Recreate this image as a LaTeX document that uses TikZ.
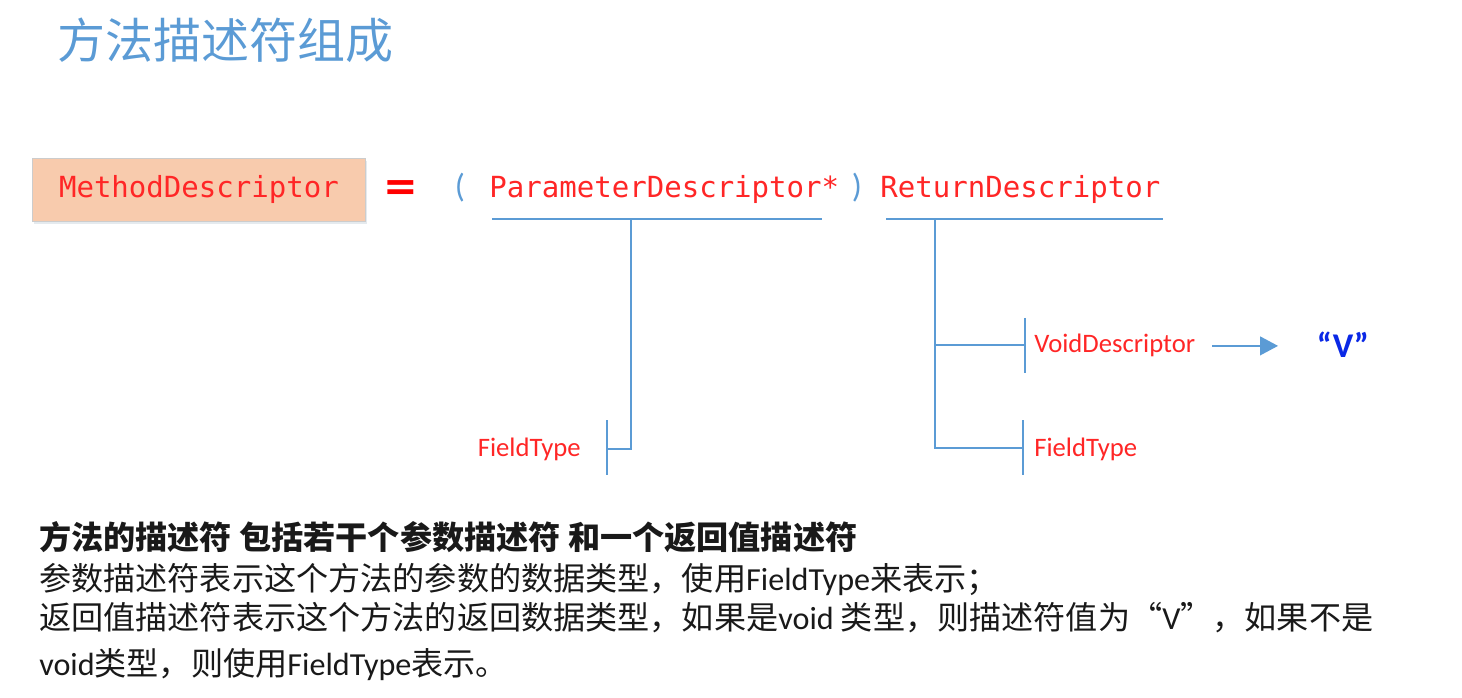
\documentclass[tikz,border=0pt]{standalone}
\usepackage{fontspec}
\usetikzlibrary{arrows.meta,shadows}
\setmainfont{Carlito}
\newfontfamily\cjk{Noto Sans CJK SC}
\newfontfamily\lat{Carlito}
\newfontfamily\codefont{DejaVu Sans Mono}
\newfontfamily\symfont{DejaVu Sans}
\definecolor{lineblue}{RGB}{91,155,213}
\definecolor{labelred}{RGB}{255,38,38}
\definecolor{peach}{RGB}{248,203,173}
\definecolor{vblue}{RGB}{10,40,230}

\begin{document}
\begin{tikzpicture}[x=0.75pt, y=-0.75pt,
    tree/.style={lineblue, line width=1.6pt},
    code/.style={labelred, inner sep=0pt, font=\codefont\fontsize{21.8pt}{26pt}\selectfont},
    leaf/.style={labelred, inner sep=0pt, font=\lat\fontsize{20pt}{24pt}\selectfont},
    paren/.style={lineblue, inner sep=0pt, font=\lat\fontsize{25pt}{30pt}\selectfont},
    body/.style={black!90, inner sep=0pt, anchor=base west, font=\cjk\fontsize{24.1pt}{29pt}\selectfont}]
    \useasboundingbox (0,0) rectangle (1462,698);
    % title
    \node[anchor=base west, inner sep=0pt, lineblue, font=\cjk\fontsize{36pt}{40pt}\selectfont] (title) at (57,59) {方法描述符组成};
    % MethodDescriptor = ( ParameterDescriptor* ) ReturnDescriptor
    \node[code, fill=peach, draw=black!20, minimum width=249.5pt, minimum height=47pt,
        drop shadow={shadow xshift=1pt, shadow yshift=-2.5pt, fill=lineblue!40!gray, opacity=0.18}] (md) at (199,189.5) {MethodDescriptor};
    \node[red, inner sep=0pt, font=\symfont\bfseries\fontsize{31pt}{36pt}\selectfont] (eq) at (401,191) {=};
    \node[paren] (lpar) at (460,188) {(};
    \node[code, anchor=base west] (param) at (489,198) {ParameterDescriptor*};
    \node[paren] (rpar) at (857,188) {)};
    \node[code, anchor=base west] (ret) at (880,198) {ReturnDescriptor};
    % parameter branch
    \coordinate (p1) at (492,219);
    \coordinate (p2) at (822,219);
    \coordinate (pj) at (631,219);
    \coordinate (pbar) at (607,449);
    \draw[tree] (p1) -- (p2);
    \draw[tree] (pj) |- (pbar);
    \draw[tree] (pbar) ++(0,-29) -- ++(0,55);
    \node[leaf, anchor=base east] (ft1) at (581,456) {FieldType};
    % return branch
    \coordinate (r1) at (886,219);
    \coordinate (r2) at (1163,219);
    \coordinate (rj) at (935,219);
    \coordinate (vbar) at (1025,345);
    \coordinate (fbar) at (1023,448);
    \draw[tree] (r1) -- (r2);
    \draw[tree] (rj) |- (fbar);
    \draw[tree] (rj |- vbar) -- (vbar);
    \draw[tree] (vbar) ++(0,-27) -- ++(0,55);
    \draw[tree] (fbar) ++(0,-28) -- ++(0,55);
    \node[leaf, anchor=base west] (void) at (1034,353) {VoidDescriptor};
    \node[leaf, anchor=base west] (ft2) at (1034,456) {FieldType};
    \node[vblue, inner sep=0pt, anchor=base, font=\lat\bfseries\fontsize{26pt}{30pt}\selectfont] (vval) at (1343,357) {“V”};
    \draw[tree, -{Triangle[length=13.5pt, width=14pt]}, shorten <=12.75pt, shorten >=29pt] (void.east) -- (void.east -| vval.west);
    % explanation
    \node[body] (sum) at (39,549) {\bfseries 方法的描述符 包括若干个参数描述符 和一个返回值描述符};
    \node[body] (line2) at (39,590) {参数描述符表示这个方法的参数的数据类型，使用{\lat FieldType}来表示；};
    \node[body] (line3) at (39,629) {返回值描述符表示这个方法的返回数据类型，如果是{\lat void} 类型，则描述符值为“{\lat V}”，如果不是};
    \node[body] (line4) at (39,675) {{\lat void}类型，则使用{\lat FieldType}表示。};
\end{tikzpicture}
\end{document}
